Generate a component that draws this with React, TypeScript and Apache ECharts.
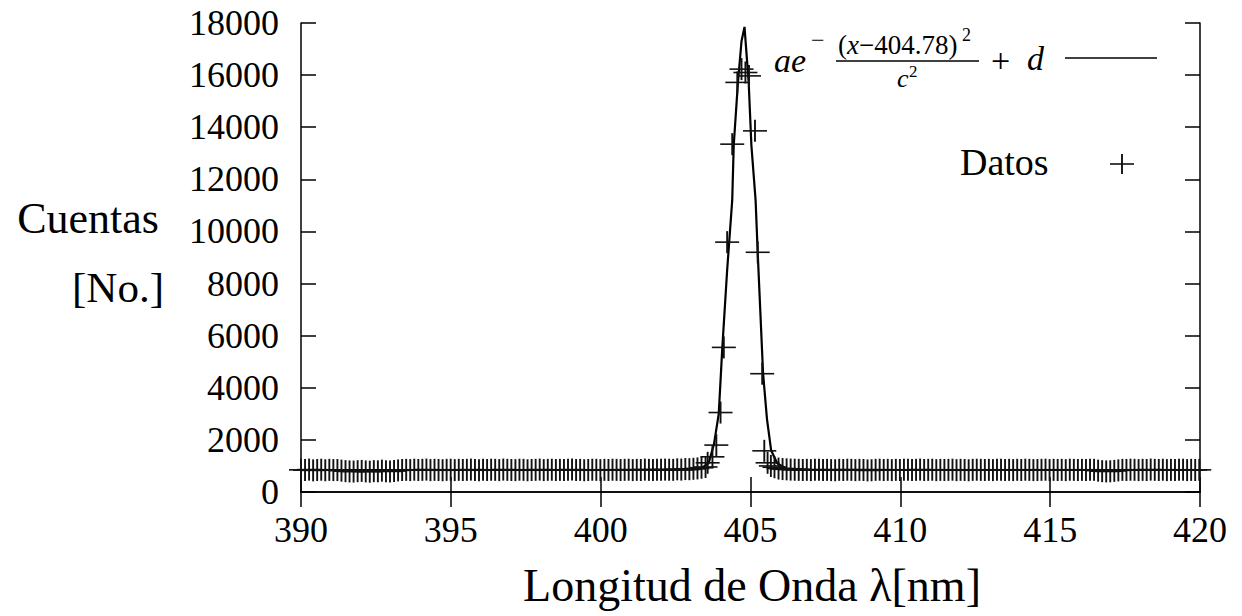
import React, { useEffect, useRef } from "react";
import * as echarts from "echarts";

// Baseline samples (left of the peak) start at 390 nm, spaced BASE_STEP nm
const BASE_STEP = 0.135;
const LEFT_START = 390;
const leftCounts = [
  850, 840, 860, 830, 845, 855, 835, 850, 840, 845,
  820, 800, 790, 785, 800, 810, 790, 780, 800, 795,
  820, 800, 790, 805, 830, 845, 850, 840, 855, 845,
  850, 860, 840, 850, 845, 835, 850, 855, 840, 850,
  845, 850, 860, 840, 835, 850, 845, 855, 850, 840,
  860, 850, 845, 840, 855, 850, 835, 845, 850, 860,
  840, 850, 855, 845, 850, 840, 850, 860, 845, 850,
  835, 845, 855, 850, 840, 850, 845, 855, 850, 845,
  850, 855, 840, 850, 845, 860, 850, 845, 855, 850,
  860, 855, 850, 870, 860, 880, 875, 890, 905, 930,
  960,
];

// Peak samples
const peakX = [
  403.57, 403.73, 403.86, 404.0, 404.11, 404.22, 404.39, 404.56, 404.7,
  404.83, 404.95, 405.15, 405.24, 405.39, 405.46, 405.57, 405.68,
];
const peakY = [
  1120, 1350, 1800, 3050, 5550, 9590, 13350, 15720, 16230,
  16100, 15970, 13860, 9200, 4540, 1580, 1120, 1000,
];

// Baseline samples (right of the peak)
const RIGHT_START = 405.8;
const rightCounts = [
  950, 900, 880, 870, 860, 855, 850, 845, 850, 840,
  855, 850, 845, 850, 840, 835, 850, 845, 855, 850,
  840, 850, 845, 830, 835, 850, 855, 845, 850, 840,
  850, 845, 855, 850, 840, 850, 860, 845, 850, 855,
  840, 850, 845, 850, 855, 840, 850, 845, 835, 850,
  855, 850, 845, 850, 840, 850, 855, 845, 850, 840,
  850, 845, 855, 850, 840, 845, 850, 855, 840, 850,
  845, 850, 840, 855, 850, 845, 850, 840, 855, 850,
  820, 800, 790, 795, 810, 830, 850, 845, 855, 850,
  840, 850, 845, 860, 850, 845, 855, 840, 850, 845,
  850, 855, 840, 850, 845, 850,
];

// Fitted curve
const fitX = [
  390, 395, 400, 403.0, 403.3, 403.6, 403.78, 403.94, 404.06, 404.22, 404.39,
  404.44, 404.58, 404.7, 404.8, 404.94, 405.03, 405.17, 405.24, 405.42,
  405.55, 405.69, 405.89, 406.2, 407, 410, 420,
];
const fitY = [
  845, 845, 845, 855, 880, 1100, 1830, 3000, 5550, 8500, 11200,
  13300, 15700, 17300, 17850, 15700, 13300, 11200, 9200, 4540,
  2800, 1590, 1100, 900, 855, 845, 845,
];

const FONT = "Liberation Serif, DejaVu Serif, serif";

export default function App() {
  const ref = useRef<HTMLDivElement>(null);

  useEffect(() => {
    if (!ref.current) return;
    const chart = echarts.init(ref.current, null, { renderer: "svg" });

    const points: number[][] = [];
    leftCounts.forEach((v, i) => points.push([LEFT_START + i * BASE_STEP, v]));
    peakX.forEach((x, i) => points.push([x, peakY[i]]));
    rightCounts.forEach((v, i) => points.push([RIGHT_START + i * BASE_STEP, v]));
    const fit = fitX.map((x, i) => [x, fitY[i]]);

    const axisLine = { show: true, lineStyle: { color: "#000", width: 1.5 } };
    const tick = { show: true, inside: true, length: 15, lineStyle: { color: "#000", width: 1.5 } };
    const label = { color: "#000", fontFamily: FONT, fontSize: 36, formatter: (v: number) => String(v) };

    const plus = (cx: number, cy: number, hw: number, hh: number) => [
      { type: "line", shape: { x1: cx - hw, y1: cy, x2: cx + hw, y2: cy }, style: { stroke: "#111", lineWidth: 1.6 } },
      { type: "line", shape: { x1: cx, y1: cy - hh, x2: cx, y2: cy + hh }, style: { stroke: "#111", lineWidth: 1.9 } },
    ];

    const txt = (x: number, y: number, text: string, size: number, italic = false, align = "left") => ({
      type: "text", x, y,
      style: {
        text, fontFamily: FONT, fontSize: size, fontStyle: italic ? "italic" : "normal",
        fill: "#000", align, verticalAlign: "middle",
      },
    });

    chart.setOption({
      animation: false,
      backgroundColor: "#fff",
      grid: { left: 301, right: 42, top: 23, bottom: 124, containLabel: false, outerBoundsMode: "none" },
      xAxis: [
        {
          type: "value", min: 390, max: 420, interval: 5, position: "bottom",
          axisLine, axisTick: tick, splitLine: { show: false },
          axisLabel: { ...label, margin: 20 },
        },
        {
          type: "value", min: 390, max: 420, interval: 5, position: "top",
          axisLine, axisTick: tick, splitLine: { show: false }, axisLabel: { show: false },
        },
      ],
      yAxis: [
        {
          type: "value", min: 0, max: 18000, interval: 2000, position: "left",
          axisLine, axisTick: tick, splitLine: { show: false },
          axisLabel: { ...label, margin: 22 },
        },
        {
          type: "value", min: 0, max: 18000, interval: 2000, position: "right",
          axisLine, axisTick: tick, splitLine: { show: false }, axisLabel: { show: false },
        },
      ],
      series: [
        {
          type: "line",
          data: fit,
          showSymbol: false,
          lineStyle: { color: "#000", width: 2.2 },
          z: 2,
        },
        {
          type: "custom",
          data: points,
          encode: { x: 0, y: 1 },
          clip: false,
          z: 3,
          renderItem: (_params: any, api: any) => {
            const p = api.coord([api.value(0), api.value(1)]);
            return { type: "group", children: plus(p[0], p[1], 12, 11) };
          },
        },
      ],
      graphic: [
        txt(159, 218, "Cuentas", 44, false, "right"),
        txt(164, 287, "[No.]", 43, false, "right"),
        txt(752, 585, "Longitud de Onda λ[nm]", 46, false, "center"),
        // formula legend
        txt(774, 60, "ae", 34, true),
        txt(811, 40, "−", 24),
        txt(838, 45, "(", 27),
        txt(847, 45, "x", 27, true),
        txt(859, 45, "−404.78)", 27),
        txt(962, 35, "2", 18),
        { type: "line", shape: { x1: 836, y1: 61, x2: 979, y2: 61 }, style: { stroke: "#000", lineWidth: 1.5 } },
        txt(897, 78, "c", 26, true),
        txt(909, 71, "2", 17),
        txt(991, 60, "+", 34),
        txt(1027, 58, "d", 34, true),
        { type: "line", shape: { x1: 1065, y1: 58, x2: 1157, y2: 58 }, style: { stroke: "#000", lineWidth: 1.6 } },
        // data legend
        txt(960, 162, "Datos", 38),
        { type: "group", children: plus(1122, 164, 12, 10) },
      ],
    });

    return () => chart.dispose();
  }, []);

  return (
    <div
      ref={ref}
      style={{ position: "fixed", left: 0, top: 0, width: 1242, height: 616, background: "#fff" }}
    />
  );
}
